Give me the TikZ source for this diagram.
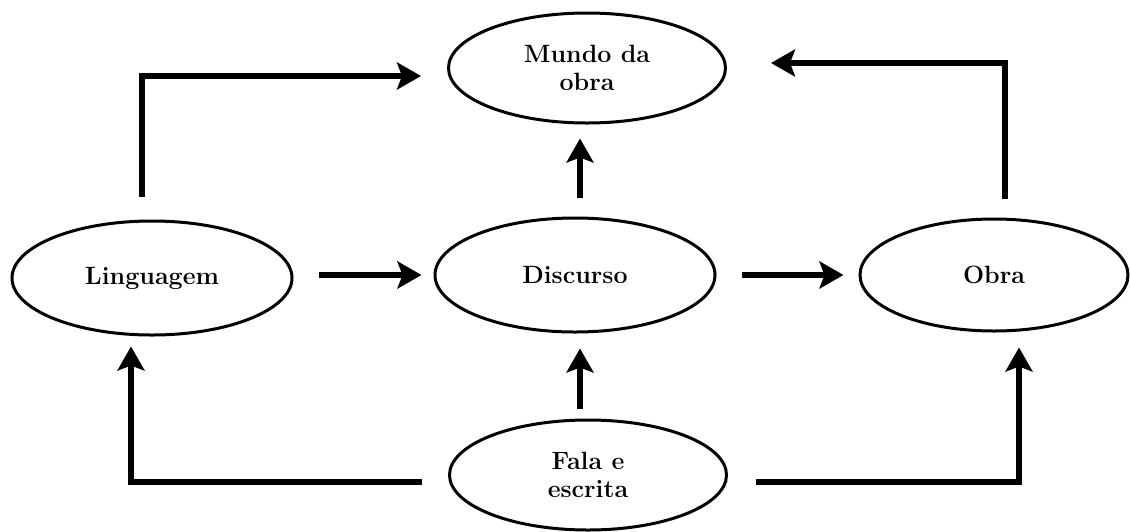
\documentclass[tikz,border=0pt]{standalone}
\usepackage{fontspec}
\usetikzlibrary{shapes.geometric,arrows.meta}

\begin{document}
\begin{tikzpicture}
  [x=1pt,y=-1pt,
   every node/.style={ellipse,draw,line width=3pt,inner sep=0pt,align=center,
     font=\bfseries\fontsize{25}{28}\selectfont},
   seta/.style={line width=6pt,-{Stealth[length=24pt,width=27pt,inset=5pt]}}]
  \useasboundingbox (0,0) rectangle (1130,531);

  \node[minimum width=277pt,minimum height=110pt] (mundo) at (587,68)  {Mundo da\\obra};
  \node[minimum width=280pt,minimum height=114pt] (ling)  at (152,278) {Linguagem};
  \node[minimum width=280pt,minimum height=114pt] (disc)  at (575,275) {Discurso};
  \node[minimum width=268pt,minimum height=112pt] (obra)  at (994,275) {Obra};
  \node[minimum width=277pt,minimum height=110pt] (fala)  at (588,475) {Fala e\\escrita};

  \draw[seta,shorten <=25pt,shorten >=12pt] (ling.east |- disc.west) -- (disc.west);
  \draw[seta,shorten <=25pt,shorten >=15pt] (disc.east) -- (obra.west);
  \draw[seta,shorten <=19pt,shorten >=14pt] ([xshift=5pt]disc.north) -- ([xshift=5pt]disc.north |- mundo.south);
  \draw[seta,shorten <=10pt,shorten >=15pt] ([xshift=5pt]disc.south |- fala.north) -- ([xshift=5pt]disc.south);

  \draw[seta,shorten <=23pt,shorten >=26pt] ([xshift=-10pt]ling.north) |- ([yshift=-8pt]mundo.west);
  \draw[seta,shorten <=19pt,shorten >=44pt] ([xshift=11pt]obra.north) |- ([yshift=5pt]mundo.east);
  \draw[seta,shorten <=26pt,shorten >=10pt] ([yshift=-7pt]fala.west) -| ([xshift=-21pt]ling.south);
  \draw[seta,shorten <=28pt,shorten >=15pt] ([yshift=-7pt]fala.east) -| ([xshift=25pt]obra.south);

\end{tikzpicture}
\end{document}
